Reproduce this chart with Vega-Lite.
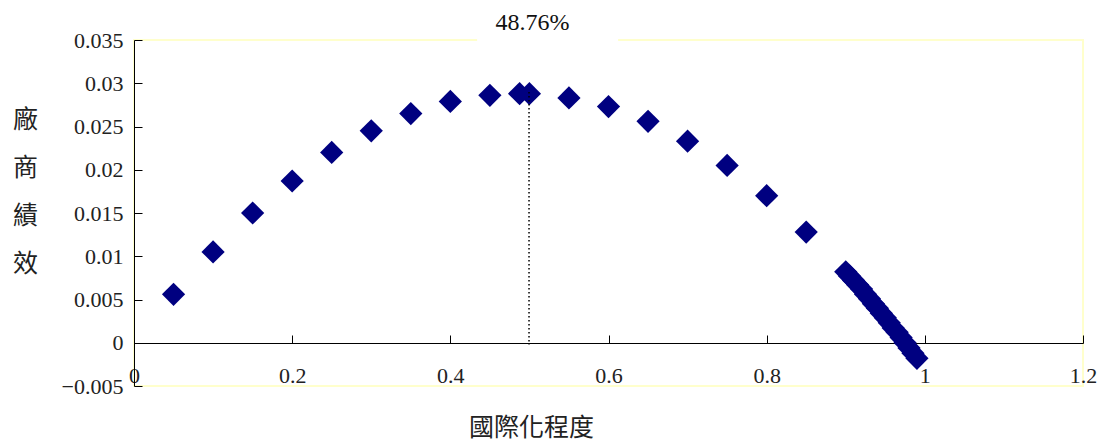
{
  "$schema": "https://vega.github.io/schema/vega-lite/v6.json",
  "autosize": "none",
  "width": 949,
  "height": 346,
  "padding": {"left": 134, "top": 40, "right": 18, "bottom": 56},
  "background": "white",
  "config": {
    "view": {"stroke": "#FFFFCC", "strokeWidth": 2},
    "axis": {"labelFont": "Liberation Serif, Times New Roman, serif", "labelFontSize": 22, "labelColor": "#222", "titleFont": "Noto Sans CJK TC", "titleFontSize": 24, "titleFontWeight": "normal", "titleColor": "#222", "grid": false, "domainColor": "#000", "tickColor": "#000"}
  },
  "datasets": {
    "pts": [
      {"x": 0.05, "y": 0.0056},
      {"x": 0.10, "y": 0.0105},
      {"x": 0.15, "y": 0.0150},
      {"x": 0.20, "y": 0.0187},
      {"x": 0.25, "y": 0.0220},
      {"x": 0.30, "y": 0.0245},
      {"x": 0.35, "y": 0.0265},
      {"x": 0.40, "y": 0.0279},
      {"x": 0.45, "y": 0.0286},
      {"x": 0.4876, "y": 0.0288},
      {"x": 0.50, "y": 0.0288},
      {"x": 0.55, "y": 0.0283},
      {"x": 0.60, "y": 0.0273},
      {"x": 0.65, "y": 0.0256},
      {"x": 0.70, "y": 0.0233},
      {"x": 0.75, "y": 0.0205},
      {"x": 0.80, "y": 0.0170},
      {"x": 0.85, "y": 0.0128},
      {"x": 0.900, "y": 0.0082},
      {"x": 0.905, "y": 0.0077},
      {"x": 0.910, "y": 0.0072},
      {"x": 0.915, "y": 0.0067},
      {"x": 0.920, "y": 0.0062},
      {"x": 0.925, "y": 0.0056},
      {"x": 0.930, "y": 0.0051},
      {"x": 0.935, "y": 0.0045},
      {"x": 0.940, "y": 0.0040},
      {"x": 0.945, "y": 0.0034},
      {"x": 0.950, "y": 0.0029},
      {"x": 0.955, "y": 0.0023},
      {"x": 0.960, "y": 0.0017},
      {"x": 0.965, "y": 0.0012},
      {"x": 0.970, "y": 0.0006},
      {"x": 0.975, "y": 0.0000},
      {"x": 0.980, "y": -0.0006},
      {"x": 0.985, "y": -0.0012},
      {"x": 0.990, "y": -0.0018}
    ],
    "peak": [
      {"x": 0.4995, "y": 0.0290, "y0": -0.0002, "label": "48.76%", "lx": 0.4876}
    ]
  },
  "layer": [
    {
      "data": {"name": "pts"},
      "mark": {"type": "point", "shape": "diamond", "filled": true, "size": 540, "color": "#000080", "opacity": 1},
      "encoding": {
        "x": {"field": "x", "type": "quantitative", "scale": {"domain": [0, 1.2], "nice": false, "zero": false},
          "axis": {"values": [0, 0.2, 0.4, 0.6, 0.8, 1, 1.2], "format": "~g", "offset": -43, "tickSize": -8, "labelPadding": 30, "labelFlush": false, "labelOverlap": false,
            "title": "國際化程度", "titleX": 397, "titleY": 84, "titleAnchor": "middle", "titleAlign": "center", "titleBaseline": "middle", "titleFontSize": 25}},
        "y": {"field": "y", "type": "quantitative", "scale": {"domain": [-0.005, 0.035], "nice": false, "zero": false},
          "axis": {"values": [-0.005, 0, 0.005, 0.01, 0.015, 0.02, 0.025, 0.03, 0.035], "format": "~g", "tickSize": -8, "labelPadding": 19, "labelFlush": false, "labelOverlap": false,
            "title": ["廠", "商", "績", "效"], "titleAngle": 0, "titleX": -109, "titleY": 79, "titleAlign": "center", "titleBaseline": "middle", "titleLineHeight": 48, "titleFontSize": 25}}
      }
    },
    {
      "data": {"name": "peak"},
      "mark": {"type": "rule", "color": "#000", "strokeWidth": 1.5, "strokeDash": [1.5, 2.5]},
      "encoding": {
        "x": {"field": "x", "type": "quantitative"},
        "y": {"field": "y", "type": "quantitative"},
        "y2": {"field": "y0"}
      }
    },
    {
      "data": {"name": "peak"},
      "mark": {"type": "rect", "color": "white", "width": 141, "height": 6, "xOffset": 28, "clip": false},
      "encoding": {
        "x": {"field": "lx", "type": "quantitative"},
        "y": {"datum": 0.035, "type": "quantitative"}
      }
    },
    {
      "data": {"name": "peak"},
      "mark": {"type": "text", "font": "Liberation Serif, Times New Roman, serif", "fontSize": 24, "color": "#111", "dx": 13, "dy": -17, "baseline": "middle", "align": "center"},
      "encoding": {
        "x": {"field": "lx", "type": "quantitative"},
        "y": {"datum": 0.035, "type": "quantitative"},
        "text": {"field": "label"}
      }
    }
  ]
}
